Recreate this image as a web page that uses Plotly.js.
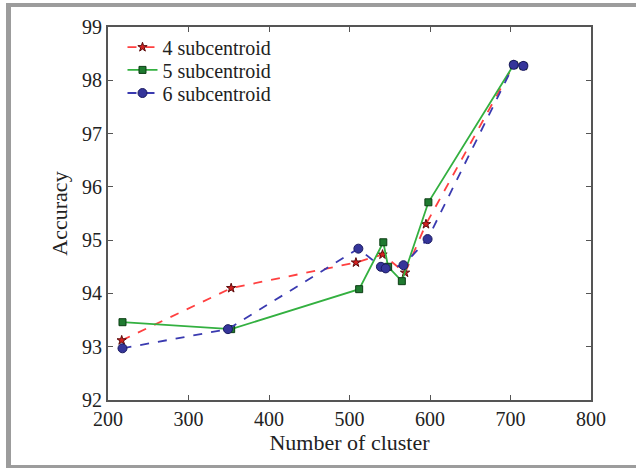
<!DOCTYPE html>
<html>
<head>
<meta charset="utf-8">
<script src="https://cdn.plot.ly/plotly-3.0.1.min.js"></script>
<style>
html,body{margin:0;padding:0;background:#fff;}
#wrap{position:relative;width:636px;height:468px;overflow:hidden;}
#chart{width:636px;height:468px;}
#frame{position:absolute;left:6px;top:3px;width:700px;height:466px;box-sizing:border-box;border-top:4px solid #9c9c9c;border-left:5px solid #9c9c9c;border-bottom:4px solid #9c9c9c;pointer-events:none;}
</style>
</head>
<body>
<div id="wrap"><div id="chart"></div><div id="frame"></div></div>
<script>
const xTicks = [200, 300, 400, 500, 600, 700, 800];
const yTicks = [92, 93, 94, 95, 96, 97, 98, 99];

const s4Name = "4 subcentroid";
const s4X = [217, 353, 508, 541, 569, 595, 704, 716];
const s4Y = [93.12, 94.10, 94.58, 94.73, 94.39, 95.30, 98.29, 98.27];

const s5Name = "5 subcentroid";
const s5X = [218, 353, 512, 542, 548, 565, 598, 704, 716];
const s5Y = [93.46, 93.33, 94.08, 94.96, 94.50, 94.23, 95.71, 98.29, 98.27];

const s6Name = "6 subcentroid";
const s6X = [218, 349, 511, 539, 545, 567, 597, 704, 716];
const s6Y = [92.97, 93.33, 94.84, 94.50, 94.47, 94.53, 95.02, 98.29, 98.27];

const serif = "Liberation Serif, Times New Roman, serif";

const traces = [
  {x: s4X, y: s4Y, name: s4Name, type: "scatter", mode: "lines+markers", legend: "legend",
   line: {color: "#ff4040", width: 1.8, dash: "dash"},
   marker: {symbol: "star", size: 7, color: "#d42020", line: {color: "#5a0a0a", width: 1}}},
  {x: s5X, y: s5Y, name: s5Name, type: "scatter", mode: "lines+markers", legend: "legend2",
   line: {color: "#33b040", width: 1.8},
   marker: {symbol: "square", size: 7, color: "#1f7a30", line: {color: "#0c3d14", width: 1}}},
  {x: s6X, y: s6Y, name: s6Name, type: "scatter", mode: "lines+markers", legend: "legend3",
   line: {color: "#3a3ab0", width: 1.8, dash: "dash"},
   marker: {symbol: "circle", size: 9, color: "#35359a", line: {color: "#1a1a60", width: 1}}}
];

const axisCommon = {
  showgrid: false, zeroline: false,
  showline: true, mirror: "ticks", linecolor: "#555", linewidth: 2,
  ticks: "inside", ticklen: 5, tickwidth: 1, tickcolor: "#555",
  tickfont: {family: serif, size: 20, color: "#222"}
};

function leg(yc) {
  return {x: 0.03, y: yc, xanchor: "left", yanchor: "middle",
          bgcolor: "rgba(0,0,0,0)", borderwidth: 0,
          font: {family: serif, size: 20, color: "#222"}};
}

const layout = {
  width: 636, height: 468,
  margin: {l: 108, r: 45, t: 27, b: 68},
  paper_bgcolor: "#fff", plot_bgcolor: "#fff",
  showlegend: true,
  legend: leg(0.946),
  legend2: leg(0.885),
  legend3: leg(0.823),
  xaxis: Object.assign({}, axisCommon, {
    range: [200, 800], tickvals: xTicks, ticktext: xTicks.map(String),
    title: {text: "Number of cluster", font: {family: serif, size: 22, color: "#222"}, standoff: 2}
  }),
  yaxis: Object.assign({}, axisCommon, {
    range: [92, 99], tickvals: yTicks, ticktext: yTicks.map(String),
    title: {text: "Accuracy", font: {family: serif, size: 22, color: "#222"}, standoff: 8}
  })
};

Plotly.newPlot("chart", traces, layout, {displayModeBar: false, staticPlot: true});
</script>
</body>
</html>
